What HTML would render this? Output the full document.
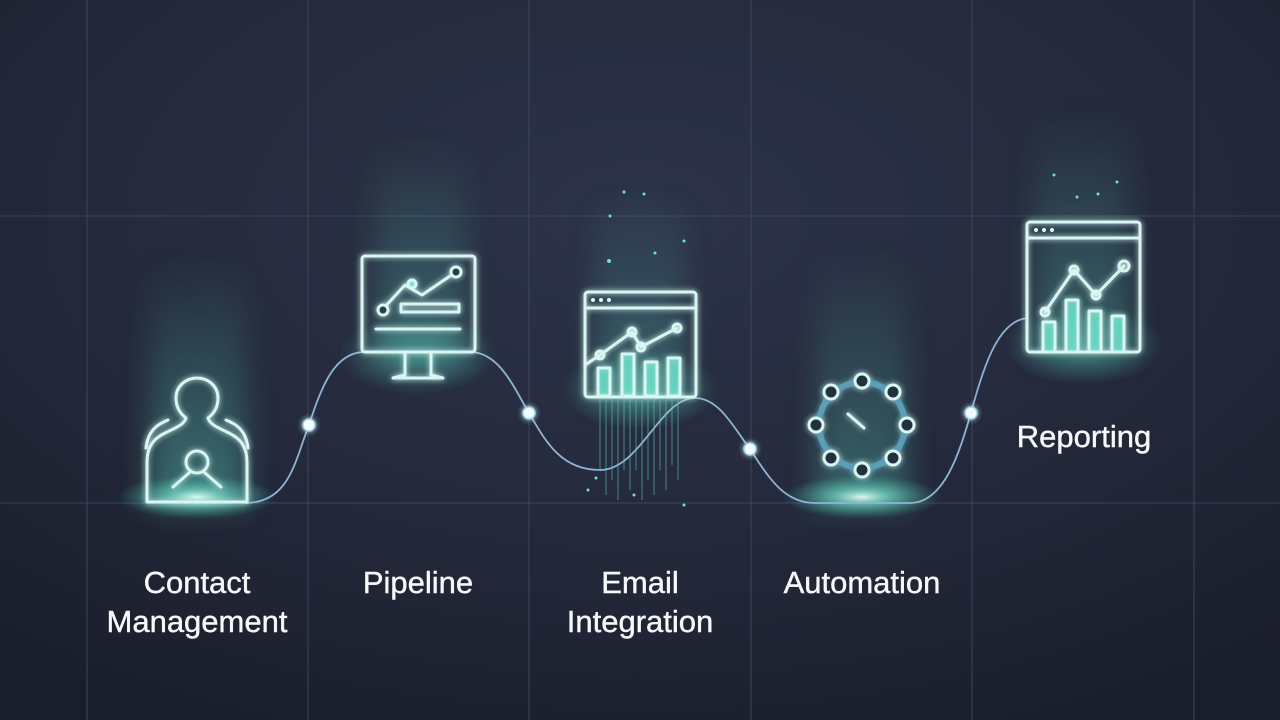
<!DOCTYPE html>
<html><head><meta charset="utf-8"><style>
html,body{margin:0;padding:0;width:1280px;height:720px;overflow:hidden;background:#1f2333}
svg{display:block}
text{font-family:"Liberation Sans",sans-serif;fill:#f6f8fa;font-size:31px;text-anchor:middle;stroke:#f6f8fa;stroke-width:0.4}
</style></head><body>
<svg width="1280" height="720" viewBox="0 0 1280 720">
<defs>
<radialGradient id="bg" cx="0.5" cy="0.3" r="0.8">
<stop offset="0" stop-color="#2d3349"/><stop offset="0.6" stop-color="#232839"/><stop offset="1" stop-color="#1a1d2a"/>
</radialGradient>
<linearGradient id="beam" x1="0" y1="1" x2="0" y2="0">
<stop offset="0" stop-color="#5fe0c8" stop-opacity="0.4"/><stop offset="1" stop-color="#5fe0c8" stop-opacity="0"/>
</linearGradient>
<radialGradient id="spot"><stop offset="0" stop-color="#e8fffa" stop-opacity="0.95"/><stop offset="0.35" stop-color="#7ff0d8" stop-opacity="0.6"/><stop offset="1" stop-color="#3fc9b0" stop-opacity="0"/></radialGradient>
<radialGradient id="soft"><stop offset="0" stop-color="#5fe0c8" stop-opacity="0.45"/><stop offset="1" stop-color="#5fe0c8" stop-opacity="0"/></radialGradient>
<filter id="glow" x="-30%" y="-30%" width="160%" height="160%"><feGaussianBlur stdDeviation="3" result="b"/><feMerge><feMergeNode in="b"/><feMergeNode in="SourceGraphic"/></feMerge></filter>
<filter id="blur" x="-50%" y="-50%" width="200%" height="200%"><feGaussianBlur stdDeviation="14"/></filter>
</defs>
<rect width="1280" height="720" fill="url(#bg)"/>
<g stroke="#3d455c" stroke-width="1">
<line x1="87" y1="0" x2="87" y2="720"/><line x1="308" y1="0" x2="308" y2="720"/><line x1="529" y1="0" x2="529" y2="720"/><line x1="751" y1="0" x2="751" y2="720"/><line x1="972" y1="0" x2="972" y2="720"/><line x1="1194" y1="0" x2="1194" y2="720"/>
<line x1="0" y1="216" x2="1280" y2="216"/><line x1="0" y1="503" x2="1280" y2="503"/>
</g>
<g filter="url(#blur)">
<rect x="150" y="260" width="95" height="245" fill="url(#beam)"/>
<rect x="375" y="140" width="90" height="220" fill="url(#beam)" opacity="0.8"/>
<rect x="595" y="190" width="90" height="210" fill="url(#beam)" opacity="0.8"/>
<rect x="817" y="250" width="90" height="255" fill="url(#beam)" opacity="0.8"/>
<rect x="1035" y="110" width="95" height="245" fill="url(#beam)" opacity="0.8"/>
</g>
<ellipse cx="418" cy="355" rx="80" ry="40" fill="url(#soft)"/>
<ellipse cx="640" cy="390" rx="80" ry="40" fill="url(#soft)"/>
<ellipse cx="1084" cy="345" rx="80" ry="40" fill="url(#soft)"/>
<ellipse cx="197" cy="497" rx="80" ry="22" fill="url(#spot)"/>
<ellipse cx="862" cy="497" rx="80" ry="22" fill="url(#spot)"/>
<path d="M245 503 C290 503 295 460 309 425 C322 385 335 352 365 352 L470 352 C500 352 515 390 529 413 C545 440 560 470 600 470 C640 470 660 398 695 398 C720 398 735 430 750 449 C770 480 785 503 815 503 L910 503 C945 503 960 450 971 413 C985 360 1000 320 1028 318" fill="none" stroke="#8fb4d4" stroke-width="1.8"/>
<g fill="#f4fbff" stroke="#9fd6e6" stroke-width="1.5" filter="url(#glow)">
<circle cx="309" cy="425" r="6"/><circle cx="529" cy="413" r="6"/><circle cx="750" cy="449" r="6"/><circle cx="971" cy="413" r="6"/>
</g>
<g fill="none" stroke="#d8f7f4" stroke-width="3" stroke-linecap="round" stroke-linejoin="round" filter="url(#glow)">
<!-- contact -->
<path d="M147 502 L147 462 C147 445 155 438 165 433 C175 428 184 425 186 418 C178 412 176 405 176 398 C176 386 186 378 197 378 C208 378 218 386 218 398 C218 405 216 412 208 418 C210 425 219 428 229 433 C239 438 247 445 247 462 L247 502 Z"/>
<path d="M146 448 C148 430 158 424 168 420 M248 448 C246 430 236 424 226 420"/>
<circle cx="197" cy="462" r="11"/>
<path d="M173 487 L189 473 M221 487 L205 473"/>
<!-- monitor -->
<rect x="362" y="256" width="113" height="96" rx="3"/>
<path d="M382 310 L405 285 L422 295 L456 272"/>
<circle cx="383" cy="310" r="5" fill="#2a3a48"/><circle cx="456" cy="272" r="5" fill="#2a3a48"/><circle cx="412" cy="284" r="4" fill="#7fe8d4"/>
<rect x="401" y="304" width="58" height="8"/>
<line x1="376" y1="329" x2="460" y2="329"/>
<path d="M405 352 L405 375 L393 378 L443 378 L431 375 L431 352"/>
<!-- email window -->
<rect x="585" y="292" width="111" height="105" rx="3"/>
<line x1="585" y1="308" x2="696" y2="308"/>
<path d="M585 365 L600 355 L632 332 L641 347 L677 328"/>
<circle cx="600" cy="355" r="4"/><circle cx="632" cy="332" r="4"/><circle cx="641" cy="347" r="4"/><circle cx="677" cy="328" r="4"/>
<g fill="#5fe0c8" fill-opacity="0.6"><rect x="598" y="368" width="12" height="28"/><rect x="622" y="354" width="12" height="42"/><rect x="645" y="362" width="12" height="34"/><rect x="668" y="358" width="12" height="38"/></g>
<!-- clock -->
<circle cx="862" cy="425" r="43" stroke="#5a9fb6" stroke-width="6"/>
<g fill="#22303e"><circle cx="862" cy="381" r="7"/><circle cx="893" cy="392" r="7"/><circle cx="907" cy="425" r="7"/><circle cx="893" cy="458" r="7"/><circle cx="862" cy="470" r="7"/><circle cx="831" cy="458" r="7"/><circle cx="816" cy="425" r="7"/><circle cx="831" cy="392" r="7"/></g>
<line x1="848" y1="414" x2="864" y2="428"/>
<!-- report window -->
<rect x="1027" y="222" width="113" height="130" rx="3"/>
<line x1="1027" y1="238" x2="1140" y2="238"/>
<path d="M1045 312 L1074 270 L1096 295 L1124 266"/>
<circle cx="1045" cy="312" r="4"/><circle cx="1074" cy="270" r="4"/><circle cx="1096" cy="295" r="4"/><circle cx="1124" cy="266" r="5"/>
<g fill="#5fe0c8" fill-opacity="0.6"><rect x="1043" y="322" width="12" height="30"/><rect x="1066" y="300" width="12" height="52"/><rect x="1089" y="311" width="12" height="41"/><rect x="1112" y="316" width="12" height="36"/></g>
</g>
<g fill="#d8f7f4"><circle cx="593" cy="300" r="2"/><circle cx="601" cy="300" r="2"/><circle cx="609" cy="300" r="2"/><circle cx="1036" cy="230" r="2"/><circle cx="1044" cy="230" r="2"/><circle cx="1052" cy="230" r="2"/></g>
<g stroke="#5fc8b8" stroke-width="1" opacity="0.6">
<line x1="600" y1="398" x2="600" y2="470"/><line x1="606" y1="398" x2="606" y2="495"/><line x1="612" y1="398" x2="612" y2="480"/><line x1="618" y1="398" x2="618" y2="500"/><line x1="624" y1="398" x2="624" y2="470"/><line x1="630" y1="398" x2="630" y2="490"/><line x1="636" y1="398" x2="636" y2="470"/><line x1="642" y1="398" x2="642" y2="500"/><line x1="648" y1="398" x2="648" y2="480"/><line x1="654" y1="398" x2="654" y2="495"/><line x1="660" y1="398" x2="660" y2="470"/><line x1="666" y1="398" x2="666" y2="490"/><line x1="672" y1="398" x2="672" y2="465"/><line x1="678" y1="398" x2="678" y2="480"/>
</g>
<g fill="#6fe0cc"><circle cx="624" cy="192" r="1.5"/><circle cx="644" cy="194" r="1.5"/><circle cx="610" cy="216" r="1.5"/><circle cx="609" cy="261" r="2"/><circle cx="684" cy="241" r="1.5"/><circle cx="655" cy="253" r="1.5"/><circle cx="1054" cy="175" r="1.5"/><circle cx="1077" cy="197" r="1.5"/><circle cx="1098" cy="194" r="1.5"/><circle cx="1117" cy="182" r="1.5"/><circle cx="588" cy="490" r="1.5"/><circle cx="596" cy="478" r="1.5"/><circle cx="634" cy="495" r="1.5"/><circle cx="684" cy="505" r="1.5"/></g>
<text x="197" y="593">Contact</text>
<text x="197" y="632">Management</text>
<text x="418" y="593">Pipeline</text>
<text x="640" y="593">Email</text>
<text x="640" y="632">Integration</text>
<text x="862" y="593">Automation</text>
<text x="1084" y="447">Reporting</text>
</svg>
</body></html>
